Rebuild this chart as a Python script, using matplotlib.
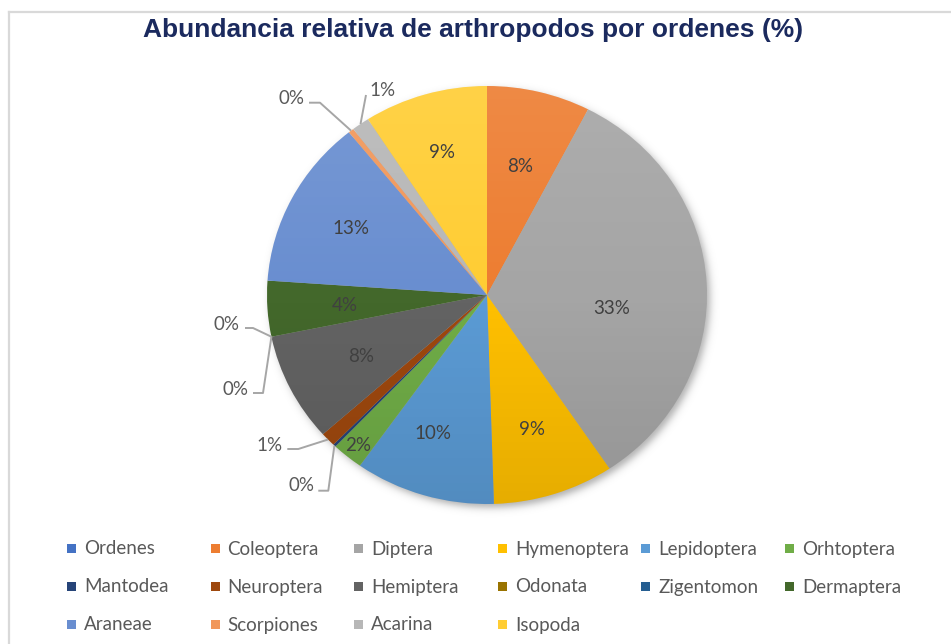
import numpy as np
import matplotlib
matplotlib.use("Agg")
import matplotlib.pyplot as plt
from matplotlib.patches import Rectangle, Circle
from matplotlib.lines import Line2D

# ---------------- data ----------------
categories = ["Ordenes", "Coleoptera", "Diptera", "Hymenoptera", "Lepidoptera",
              "Orhtoptera", "Mantodea", "Neuroptera", "Hemiptera", "Odonata",
              "Zigentomon", "Dermaptera", "Araneae", "Scorpiones", "Acarina", "Isopoda"]
values = [0, 7.6, 33.0, 8.9, 10.3, 2.3, 0.2, 1.1, 8.4, 0, 0, 4.3, 13.1, 0.4, 1.3, 9.1]
colors = ["#4472C4", "#ED7D31", "#A5A5A5", "#FFC000", "#5B9BD5", "#70AD47",
          "#264478", "#9E480E", "#636363", "#997300", "#255E91", "#43682B",
          "#698ED0", "#F1975A", "#B7B7B7", "#FFCD33"]
title = "Abundancia relativa de arthropodos por ordenes (%)"

# ---------------- layout ----------------
W, H = 951, 644
cx, cy, rx, ry = 487, 295, 220, 209   # pie centre / radii in pixels
lim = 1.25

# inner label placement: radius fraction and angular tweak (deg)
inner_r = {"Coleoptera": 0.64, "Diptera": 0.57, "Hymenoptera": 0.67,
           "Lepidoptera": 0.70, "Orhtoptera": 0.92, "Hemiptera": 0.64,
           "Dermaptera": 0.65, "Araneae": 0.70, "Isopoda": 0.72}
inner_dang = {"Diptera": -9, "Lepidoptera": -4}

# outer labels: text centre px, elbow start px, elbow end px
outer = {
    "Scorpiones": ((291.7, 96.7), (309, 102.7), (320, 102.7)),
    "Acarina":    ((382.7, 89.0), (366, 95.0), (366, 95.0)),
    "Odonata":    ((226.7, 323.3), (245, 328.0), (253, 328.0)),
    "Zigentomon": ((236.0, 388.0), (253, 393.0), (263, 393.0)),
    "Neuroptera": ((270.0, 444.0), (287.3, 449.0), (298.3, 449.0)),
    "Mantodea":   ((301.7, 484.0), (318.3, 490.7), (328.3, 490.7)),
}


def px2d(p):
    return ((p[0] - cx) / rx, (cy - p[1]) / ry)


fig = plt.figure(figsize=(W / 100, H / 100), dpi=100)
fig.patch.set_facecolor("white")

ax = fig.add_axes([(cx - lim * rx) / W, (H - cy - lim * ry) / H,
                   2 * lim * rx / W, 2 * lim * ry / H])
wedges, _ = ax.pie(values, colors=colors, startangle=90, counterclock=False,
                   radius=1, wedgeprops=dict(linewidth=0, zorder=2))

# soft shadow
gx = np.linspace(-lim, lim, 500)
gy = np.linspace(lim, -lim, 500)
X, Y = np.meshgrid(gx, gy)
R = np.sqrt((X - 0.015) ** 2 + (Y + 0.02) ** 2)
sh = np.zeros((500, 500, 4))
sh[..., 3] = 0.32 * 0.5 * (1 - np.tanh((R - 1.0) / 0.022))
ax.imshow(sh, extent=[-lim, lim, -lim, lim], aspect="auto", zorder=1,
          interpolation="bilinear")

# vertical shading overlay (light top, darker bottom)
t = np.linspace(0, 1, 256)[:, None]
ov = np.zeros((256, 1, 4))
ov[..., :3] = np.where(t < 0.5, 1.0, 0.0)[..., None] * np.ones(3)
ov[..., 3] = np.where(t < 0.5, (0.5 - t) * 2 * 0.10, (t - 0.5) * 2 * 0.10)
im = ax.imshow(ov, extent=[-1, 1, -1, 1], aspect="auto", zorder=3,
               interpolation="bilinear")
im.set_clip_path(Circle((0, 0), 1, transform=ax.transData))

ax.set_aspect("auto")
ax.set_xlim(-lim, lim)
ax.set_ylim(-lim, lim)
ax.axis("off")

total = sum(values)
lab_font = "Lato"
for name, val, w in zip(categories, values, wedges):
    mid = np.deg2rad((w.theta1 + w.theta2) / 2)
    pct = f"{round(val / total * 100)}%"
    if name in inner_r:
        a = mid + np.deg2rad(inner_dang.get(name, 0))
        r = inner_r[name]
        ax.text(r * np.cos(a), r * np.sin(a), pct, ha="center", va="center_baseline",
                fontsize=13.5, color="#404040", family=lab_font, zorder=5)
    elif name in outer:
        tpos, e1, e2 = outer[name]
        edge = (np.cos(mid), np.sin(mid))
        pts = [px2d(e1), px2d(e2), edge]
        ax.plot([p[0] for p in pts], [p[1] for p in pts], color="#A6A6A6",
                lw=1.4, zorder=4, solid_capstyle="butt")
        tx, ty = px2d(tpos)
        ax.text(tx, ty, pct, ha="center", va="center_baseline", fontsize=13.5,
                color="#595959", family=lab_font, zorder=5)

# title
fig.text(473.5 / W, 1 - 37.5 / H, title, ha="center", va="baseline",
         fontsize=19, fontweight="bold", color="#1B2A5E", family="Liberation Sans")

# legend (manual grid, row-wise)
col_x = [67 + 143.6 * i for i in range(6)]
row_y = [548, 586, 624]
for i, (name, c) in enumerate(zip(categories, colors)):
    r, k = divmod(i, 6)
    x0, y0 = col_x[k], row_y[r]
    fig.patches.append(Rectangle((x0 / W, 1 - (y0 + 4.5) / H), 9 / W, 9 / H,
                                 transform=fig.transFigure, facecolor=c,
                                 edgecolor="none"))
    fig.text((x0 + 17) / W, 1 - (y0 + 6.5) / H, name, ha="left", va="baseline",
             fontsize=13.5, color="#595959", family=lab_font)

# chart border (top & left visible)
fig.add_artist(Line2D([8.5 / W, 1], [1 - 11.5 / H, 1 - 11.5 / H],
                      transform=fig.transFigure, color="#D9D9D9", lw=1.6))
fig.add_artist(Line2D([8.5 / W, 8.5 / W], [1 - 11.5 / H, 0],
                      transform=fig.transFigure, color="#D9D9D9", lw=1.6))

fig.savefig("out.png", dpi=100, facecolor="white")
